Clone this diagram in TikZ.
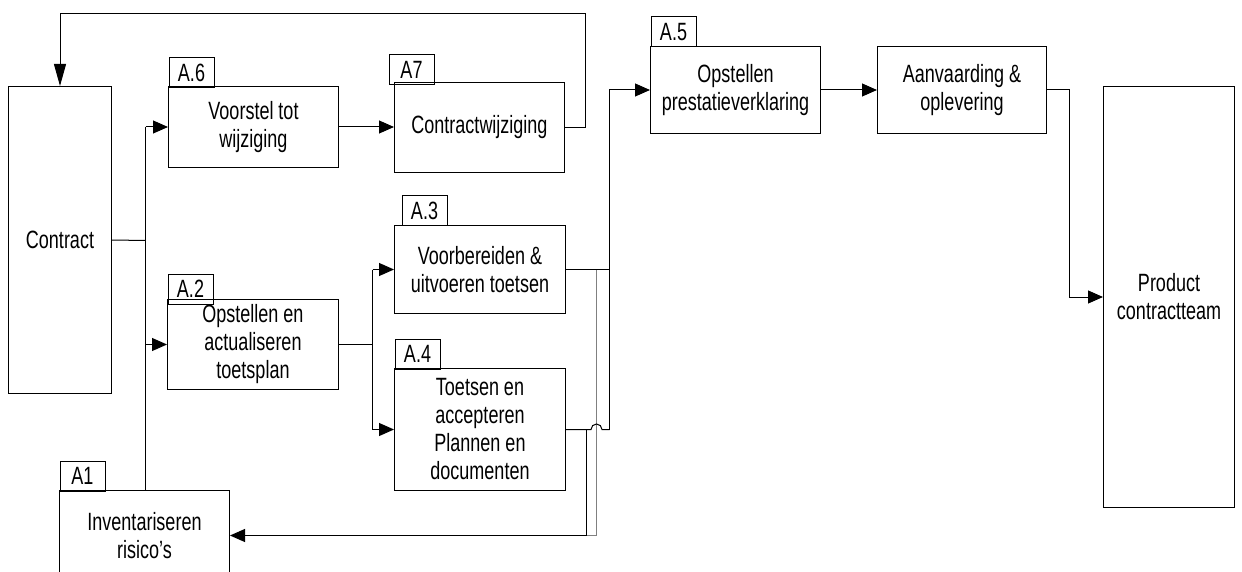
\documentclass[tikz,border=0pt]{standalone}
\usepackage{fontspec}
\setmainfont{Liberation Sans}[FakeStretch=0.72]
\usetikzlibrary{arrows.meta}
\begin{document}
\begin{tikzpicture}[x=1pt,y=-1pt,
  every node/.style={font=\fontsize{25}{28}\selectfont},
  box/.style={draw, line width=1pt, inner sep=0pt, align=center},
  tag/.style={draw, line width=1pt, inner sep=0pt, anchor=north west,
              minimum width=45pt, minimum height=30pt},
  link/.style={line width=1pt},
  arr/.style={line width=1pt, -{Triangle[length=15pt,width=13pt]}},
  back/.style={line width=1pt, draw=gray}]
\useasboundingbox (0,0) rectangle (1242,572);
\clip (0,0) rectangle (1242,572);

% half-point offset keeps the 1pt strokes on whole pixels
\begin{scope}[xshift=0.5pt, yshift=-0.5pt]

% process boxes
\node[box, minimum width=103pt, minimum height=307pt] (contract) at (59.5,239.5) {Contract};
\node[box, minimum width=170pt, minimum height=81pt]  (a6) at (253,126.5) {Voorstel tot\\wijziging};
\node[box, minimum width=170pt, minimum height=90pt]  (a7) at (479,127) {Contractwijziging};
\node[box, minimum width=171pt, minimum height=90pt]  (a2) at (252.5,344) {Opstellen en\\actualiseren\\toetsplan};
\node[box, minimum width=171pt, minimum height=88pt]  (a3) at (479.5,269) {Voorbereiden \&\\uitvoeren toetsen};
\node[box, minimum width=171pt, minimum height=122pt] (a4) at (479.5,429) {Toetsen en\\accepteren\\Plannen en\\documenten};
\node[box, minimum width=170pt, minimum height=87pt]  (a5) at (735,89.5) {Opstellen\\prestatieverklaring};
\node[box, minimum width=169pt, minimum height=87pt]  (aanv) at (961.5,89.5) {Aanvaarding \&\\oplevering};
\node[box, minimum width=131pt, minimum height=421pt] (product) at (1168.5,296.5) {Product\\contractteam};
\node[box, minimum width=170pt, minimum height=90pt]  (a1) at (144,535) {Inventariseren\\risico’s};

% activity tags
\node[tag] (t6) at (168,57)  {A.6};
\node[tag] (t7) at (388,54)  {A7};
\node[tag] (t2) at (167,273) {A.2};
\node[tag] (t3) at (401,195) {A.3};
\node[tag] (t4) at (394,338) {A.4};
\node[tag] (t5) at (650,16)  {A.5};
\node[tag] (t1) at (59,460)  {A1};

% helper coordinates for the routing columns
\coordinate (sp)   at (145,240);
\coordinate (s2)   at (372,344);
\coordinate (m)    at (609,89.5);
\coordinate (gx)   at (596,0);
\coordinate (dx)   at (586,535);
\coordinate (loop) at (585,13);
\coordinate (px)   at (1069,0);

% contract splits towards A.6 and A.2, and down to A.1
\draw[link] (contract.east) -- (sp);
\draw[link] (sp |- a6.west) -- (sp |- a1.north);
\draw[arr] (sp |- a6.west) -- (a6.west);
\draw[arr] (sp |- a2.west) -- (a2.west);

% change loop
\draw[arr] (a6.east) -- (a7.west |- a6.east);
\draw[line width=1pt, -{Triangle[length=22pt,width=12pt]}] (a7.east) -| (loop) -| (contract.north);

% test plan to A.3 and A.4
\draw[link] (a2.east) -- (s2);
\draw[link] (s2 |- a3.west) -- (s2 |- a4.west);
\draw[arr] (s2 |- a3.west) -- (a3.west);
\draw[arr] (s2 |- a4.west) -- (a4.west);

% feedback from A.3 to A.1
\draw[back] (a3.east -| gx) -- (gx |- dx) -- (dx);

% results towards A.5
\draw[link] (a3.east) -- (a3.east -| m);
\draw[link] (a4.east) -- ([xshift=-5.5pt]a4.east -| gx)
  arc[start angle=180, end angle=360, radius=5.5] -- (a4.east -| m);
\draw[arr] (a4.east -| m) -- (m |- a5.west) -- (a5.west);

% feedback from A.4 to A.1
\draw[arr] (a4.east -| dx) -- (dx) -- (a1.east);

% final chain
\draw[arr] (a5.east) -- (aanv.west);
\draw[arr] (aanv.east) -- (aanv.east -| px) |- (product.west);
\end{scope}
\end{tikzpicture}
\end{document}
